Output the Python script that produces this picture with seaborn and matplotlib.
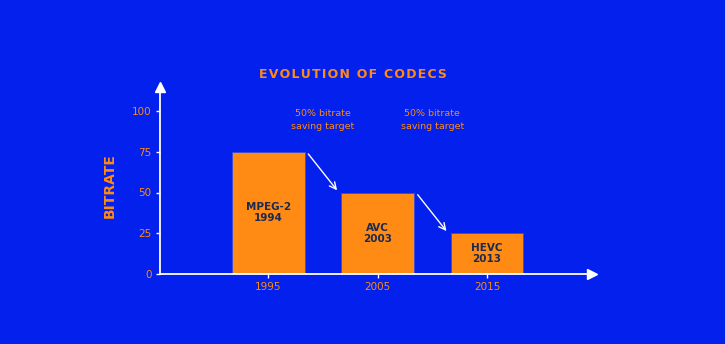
import matplotlib
matplotlib.use("Agg")
import matplotlib.pyplot as plt
import seaborn as sns
import pandas as pd

years = ["1995", "2005", "2015"]
bitrate = [75, 50, 25]
codecs = ["MPEG-2\n1994", "AVC\n2003", "HEVC\n2013"]
yticks = [0, 25, 50, 75, 100]
note = "50% bitrate\nsaving target"
title = "EVOLUTION OF CODECS"

BG = "#0320EC"
ORANGE = "#FF8A14"
DARK = "#1B2A4E"

sns.set_style("white")
plt.rcParams['font.family'] = ['DejaVu Sans']

fig = plt.figure(figsize=(7.25, 3.44), dpi=100, facecolor=BG)
ax = fig.add_axes([160/725, 70/344, 432/725, 115*1.63/344])
ax.set_facecolor(BG)

df = pd.DataFrame({"year": years, "bitrate": bitrate})
sns.barplot(data=df, x="year", y="bitrate", color=ORANGE, saturation=1,
            width=0.667, ax=ax, edgecolor="#3A4ADF", linewidth=0.6)

ax.set_xlim(-0.99, 2.96)
ax.set_ylim(0, 115)
ax.set_yticks(yticks)
ax.set_yticklabels([str(v) for v in yticks])

for s in ["top", "right"]:
    ax.spines[s].set_visible(False)
for s in ["left", "bottom"]:
    ax.spines[s].set_color("white")
    ax.spines[s].set_linewidth(1.3)
ax.plot(1, 0, ">", color="white", markersize=7, transform=ax.transAxes, clip_on=False)
ax.plot(0, 1, "^", color="white", markersize=7, transform=ax.transAxes, clip_on=False)

ax.tick_params(axis="both", colors="white", labelcolor=ORANGE, labelsize=7.5,
               length=3, width=1, direction="out", left=True, bottom=True)
ax.tick_params(axis="y", pad=3)
ax.tick_params(axis="x", pad=3)

ax.set_xlabel("")
ax.set_ylabel("BITRATE", color=ORANGE, fontsize=10, fontweight="bold")
ax.yaxis.set_label_coords(-0.099, 0.47)

for i, (lab, v) in enumerate(zip(codecs, bitrate)):
    ax.text(i, v/2, lab, ha="center", va="center", color=DARK, fontsize=7.5,
            fontweight="bold", linespacing=1.1)

for i in range(2):
    ax.annotate("", xy=(i + 0.645, bitrate[i+1]), xytext=(i + 0.35, bitrate[i]),
                arrowprops=dict(arrowstyle="->", color="white", lw=1, mutation_scale=12))
    ax.text(i + 0.5, 94.5, note, ha="center", va="center", color=ORANGE, fontsize=6.8,
            linespacing=1.5)

fig.text(353/725, 1 - 75/344, "\u200a".join(title), ha="center", va="center",
         color=ORANGE, fontsize=9, fontweight="bold")

fig.savefig("out.png", dpi=100, facecolor=BG)
